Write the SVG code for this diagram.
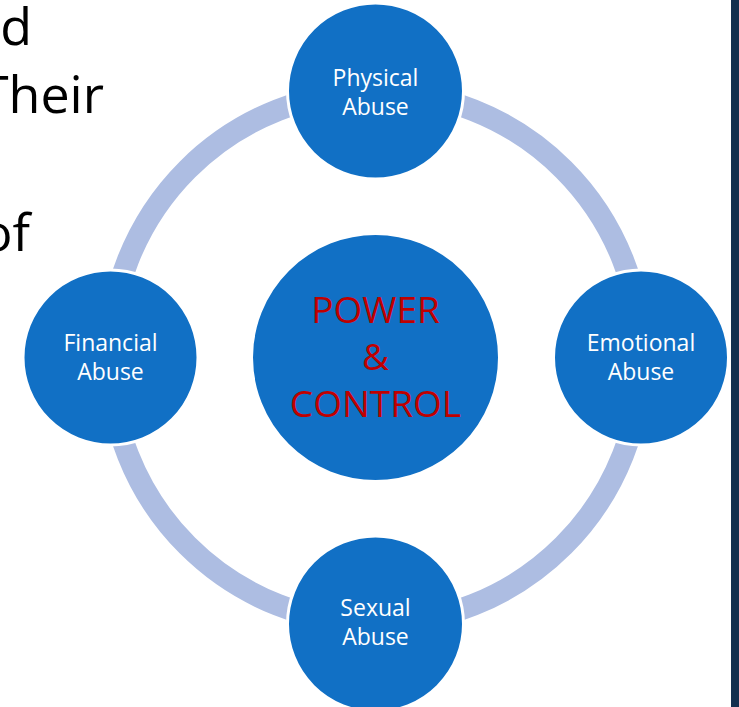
<svg xmlns="http://www.w3.org/2000/svg" width="739" height="707" viewBox="0 0 739 707">
<style>
.bg{fill:#ffffff}
.node{fill:#1170c5;stroke:#ffffff;stroke-width:3}
.lbl{font-family:"Open Sans","Liberation Sans",sans-serif;font-size:23px;fill:#ffffff;text-anchor:middle}
.core{font-family:"Open Sans","Liberation Sans",sans-serif;font-size:37px;fill:#c00000;text-anchor:middle}
.side{font-family:"Open Sans","Liberation Sans",sans-serif;font-size:52px;fill:#000000;text-anchor:end}
.ring{fill:none;stroke:#adbde2;stroke-width:22}
</style>
<rect class="bg" x="0" y="0" width="739" height="707"/>
<g id="side-text">
<text class="side" x="32" y="45">d</text>
<text class="side" x="104" y="113">Their</text>
<text class="side" x="30" y="251">of</text>
</g>
<rect id="bar" x="731" y="0" width="8" height="707" fill="#13304f"/>
<g id="connectors">
<circle class="ring" cx="375.5" cy="357.5" r="266"/>
</g>
<g id="center">
<circle class="node" cx="375.5" cy="357.5" r="124"/>
<text class="core" x="375.5" y="323">POWER</text>
<text class="core" x="375.5" y="370">&amp;</text>
<text class="core" x="375.5" y="417">CONTROL</text>
</g>
<g id="physical">
<circle class="node" cx="375.5" cy="91" r="88"/>
<text class="lbl" x="375.5" y="86">Physical</text>
<text class="lbl" x="375.5" y="115">Abuse</text>
</g>
<g id="emotional">
<circle class="node" cx="641" cy="357.5" r="87.5"/>
<text class="lbl" x="641" y="351">Emotional</text>
<text class="lbl" x="641" y="380">Abuse</text>
</g>
<g id="sexual">
<circle class="node" cx="375.5" cy="624" r="88"/>
<text class="lbl" x="375.5" y="616">Sexual</text>
<text class="lbl" x="375.5" y="645">Abuse</text>
</g>
<g id="financial">
<circle class="node" cx="110.5" cy="357.5" r="87.5"/>
<text class="lbl" x="110.5" y="351">Financial</text>
<text class="lbl" x="110.5" y="380">Abuse</text>
</g>
</svg>
